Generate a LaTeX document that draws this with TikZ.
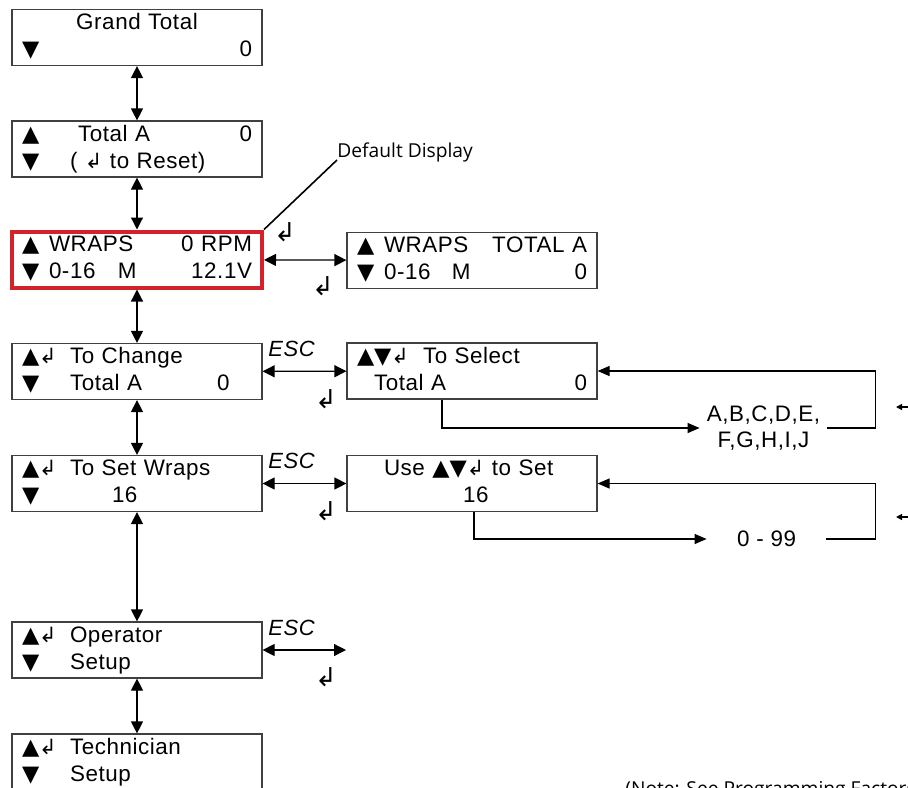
\documentclass[tikz,border=0pt]{standalone}
\usepackage{fontspec}
\usetikzlibrary{arrows.meta}
\newfontfamily\lcdfont{Liberation Sans}[LetterSpace=2.5]
\newfontfamily\symfont{DejaVu Sans}
\newfontfamily\notefont{Open Sans}
\definecolor{lcdred}{RGB}{210,35,42}
\newcommand{\tup}{{\symfont ▲}}
\newcommand{\tdn}{{\symfont ▼}}
\newcommand{\tret}{{\symfont\fontsize{10.5}{10}\selectfont ↲}}
\newcommand{\lcdrow}[1]{\makebox[115pt][l]{\rule[-4pt]{0pt}{13.5pt}#1}}
\begin{document}
\begin{tikzpicture}
        [x=0.5pt, y=-0.5pt,
        lcd/.style={draw=black!75, line width=0.6pt, minimum width=125pt, minimum height=28pt,
          inner xsep=5pt, inner ysep=0pt, text width=115pt, align=left,
          font=\lcdfont\fontsize{11.2}{13.5}\selectfont},
        sel/.style={lcd, draw=lcdred, line width=2pt},
        dbl/.style={{Triangle[length=6pt,width=6pt]}-{Triangle[length=6pt,width=6pt]}, line width=0.6pt},
        one/.style={-{Triangle[length=6pt,width=5pt]}, line width=0.6pt},
        retkey/.style={font=\symfont\fontsize{13}{13}\selectfont, inner sep=0pt},
        esc/.style={font=\lcdfont\fontsize{11}{11}\selectfont\itshape, inner sep=0pt, anchor=base west},
        list/.style={font=\lcdfont\fontsize{11.2}{13.3}\selectfont, align=center, inner sep=0pt},
        note/.style={font=\notefont\fontsize{9.6}{9.6}\selectfont, inner sep=0pt},
        ]
        \useasboundingbox (0,0) rectangle (908,787);
        \clip (0,0) rectangle (908,787);

        % main column
        \node[lcd] (grand) at (137,37.5)
          {\lcdrow{\hfill Grand Total\hfill}\\\lcdrow{\tdn\hfill 0}};
        \node[lcd] (totala) at (137,149)
          {\lcdrow{\makebox[28pt][l]{\tup}Total A\hfill 0}\\\lcdrow{\makebox[24pt][l]{\tdn}( \tret\ to Reset)}};
        \node[sel] (wraps) at (137,259.5)
          {\lcdrow{\makebox[13.5pt][l]{\tup}WRAPS\hfill 0 RPM}\\\lcdrow{\makebox[48pt][l]{\makebox[13.5pt][l]{\tdn}0-16}M\hfill 12.1V}};
        \node[lcd] (change) at (137,371.5)
          {\lcdrow{\makebox[24pt][l]{\tup\tret}To Change}\\\lcdrow{\makebox[97.5pt][l]{\makebox[24pt][l]{\tdn}Total A}0}};
        \node[lcd] (setw) at (137,483.5)
          {\lcdrow{\makebox[24pt][l]{\tup\tret}To Set Wraps}\\\lcdrow{\makebox[45pt][l]{\tdn}16}};
        \node[lcd] (oper) at (137,650)
          {\lcdrow{\makebox[24pt][l]{\tup\tret}Operator}\\\lcdrow{\makebox[24pt][l]{\tdn}Setup}};
        \node[lcd] (tech) at (137,762)
          {\lcdrow{\makebox[24pt][l]{\tup\tret}Technician}\\\lcdrow{\makebox[24pt][l]{\tdn}Setup}};

        % second column
        \node[lcd] (wrapsa) at (472,260.5)
          {\lcdrow{\makebox[13.5pt][l]{\tup}WRAPS\hfill TOTAL A}\\\lcdrow{\makebox[47.5pt][l]{\makebox[13.5pt][l]{\tdn}0-16}M\hfill 0}};
        \node[lcd] (select) at (472,371)
          {\lcdrow{\makebox[33pt][l]{\tup\tdn\tret}To Select}\\\lcdrow{\makebox[8.5pt]{}Total A\hfill 0}};
        \node[lcd] (useset) at (472,483.5)
          {\lcdrow{\makebox[13.5pt]{}Use \tup\tdn\tret\ to Set}\\\lcdrow{\makebox[53pt]{}16}};
        \coordinate (operend) at (346,650);

        \draw[dbl] (grand) -- (totala);
        \draw[dbl] (totala) -- (wraps);
        \draw[dbl] (wraps) -- (change);
        \draw[dbl] (change) -- (setw);
        \draw[dbl] (setw) -- (oper);
        \draw[dbl] (oper) -- (tech);

        \draw[dbl] (wraps) -- (wrapsa);
        \draw[dbl] (change) -- (select);
        \draw[dbl] (setw) -- (useset);
        \draw[dbl] (oper.east) -- (operend);

        % keys beside the arrows
        \node[retkey] (ret1) at (285,232) {↲};
        \node[retkey] (ret2) at (323,286) {↲};
        \node[retkey] (ret3) at (326,399) {↲};
        \node[retkey] (ret4) at (326,511) {↲};
        \node[retkey] (ret5) at (326,677) {↲};
        \node[esc] (esc1) at (268,356) {ESC};
        \node[esc] (esc2) at (268,468) {ESC};
        \node[esc] (esc3) at (268,635) {ESC};

        % default display
        \node[note, anchor=base west] (dflt) at (337,157) {Default Display};
        \draw[line width=0.8pt] (wraps.north east) -- ([yshift=1pt]dflt.south west);

        % choices
        \node[list, minimum width=63.5pt] (letters) at (763.5,428) {A,B,C,D,E,\\F,G,H,I,J};
        \node[list, minimum width=59.5pt] (range) at (766.5,539) {0 - 99};
        \draw[one] ([xshift=-15pt]select.south) |- (letters.west);
        \draw[one] (letters.east) -- ++(48,0) |- (select.east);
        \draw[one] ([xshift=1pt]useset.south) |- (range.west);
        \draw[one] (range.east) -- ++(49,0) |- (useset.east);

        % cut at the right edge
        \coordinate (stub1) at (910,407);
        \coordinate (stub1end) at (896,407);
        \coordinate (stub2) at (910,517);
        \coordinate (stub2end) at (896,517);
        \draw[-{Triangle[length=3pt,width=3pt]}, line width=0.6pt] (stub1) -- (stub1end);
        \draw[-{Triangle[length=3pt,width=3pt]}, line width=0.6pt] (stub2) -- (stub2end);

        \node[note, anchor=base west] (fnote) at (625,795) {(Note: See Programming Factors};
\end{tikzpicture}
\end{document}
